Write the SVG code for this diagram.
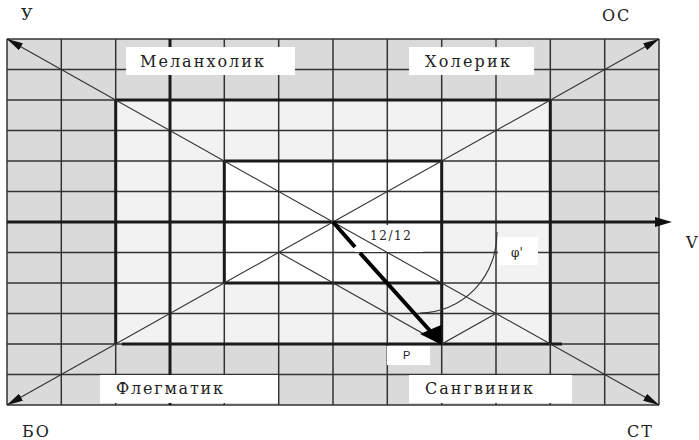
<svg xmlns="http://www.w3.org/2000/svg" width="699" height="440" viewBox="0 0 699 440">
<style>
.grid{fill:none;stroke:#333;stroke-width:1.5}
.thick{fill:none;stroke:#1a1a1a;stroke-width:3}
.diag{fill:none;stroke:#333;stroke-width:1.1}
.box{fill:#fff;stroke:none}
.lbl{font-family:"DejaVu Serif","Liberation Serif",serif;font-size:16px;fill:#222}
.corner{font-family:"DejaVu Serif","Liberation Serif",serif;font-size:16px;fill:#222}
.small{font-family:"DejaVu Serif","Liberation Serif",serif;font-size:12px;fill:#222}
</style>
<defs>
<marker id="ah" viewBox="0 0 16 8" refX="16" refY="4" markerWidth="16" markerHeight="8" markerUnits="userSpaceOnUse" orient="auto-start-reverse">
<path d="M0,0 L16,4 L0,8 z" fill="#111"/>
</marker>
</defs>
<rect width="699" height="440" fill="#fff"/>
<g id="background">
<rect x="7" y="39" width="652" height="366" fill="#dadada"/>
<rect x="115.7" y="100" width="434.6" height="244" fill="#f2f2f2"/>
<rect x="224.3" y="161" width="217.4" height="122" fill="#fff"/>
</g>
<g id="grid">
<path class="grid" d="M7,39V405 M61.3,39V405 M115.7,39V405 M170,39V405 M224.3,39V405 M278.7,39V405 M333,39V405 M387.3,39V405 M441.7,39V405 M496,39V405 M550.3,39V405 M604.7,39V405 M659,39V405
M7,39H659 M7,69.5H659 M7,100H659 M7,130.5H659 M7,161H659 M7,191.5H659 M7,222H659 M7,252.5H659 M7,283H659 M7,313.5H659 M7,344H659 M7,374.5H659 M7,405H659"/>
<path class="thick" d="M170,39V405 M115.7,100V344 M550.3,100V344 M115.7,100H550.3 M122,344H562 M224.3,161V283 M441.7,161V344 M224.3,161H441.7 M224.3,283H441.7 M7,222H655"/>
</g>
<g id="labels-boxes">
<rect class="box" x="126" y="47" width="169" height="28"/>
<rect class="box" x="409" y="47" width="125" height="28"/>
<rect class="box" x="100" y="375" width="178" height="28"/>
<rect class="box" x="409" y="375" width="163" height="28"/>
<rect class="box" x="355" y="225" width="68" height="27"/>
<rect class="box" x="498" y="237" width="40" height="28"/>
<rect class="box" x="387" y="346" width="43" height="19"/>
</g>
<g id="connectors">
<line class="diag" x1="7" y1="39" x2="659" y2="405" marker-start="url(#ah)" marker-end="url(#ah)"/>
<line class="diag" x1="7" y1="405" x2="659" y2="39" marker-start="url(#ah)" marker-end="url(#ah)"/>
<polyline class="diag" points="280,253 441.7,344 496,313.5"/>
<path class="diag" d="M497,232 A77,80 0 0 1 420,313"/>
<polygon points="655,217 672,222 655,227" fill="#111"/>
<path d="M333,222 L355,247 M360,253 L432,333" fill="none" stroke="#000" stroke-width="4"/>
<polygon points="442,345 420,334 441,325" fill="#000"/>
</g>
<g id="node-melancholic"><text class="lbl" x="140" y="67" textLength="124" lengthAdjust="spacing">Меланхолик</text></g>
<g id="node-choleric"><text class="lbl" x="425" y="67" textLength="85" lengthAdjust="spacing">Холерик</text></g>
<g id="node-phlegmatic"><text class="lbl" x="116" y="394" textLength="107" lengthAdjust="spacing">Флегматик</text></g>
<g id="node-sanguine"><text class="lbl" x="425" y="394" textLength="108" lengthAdjust="spacing">Сангвиник</text></g>
<g id="node-corners">
<text class="corner" x="21" y="20" font-size="14">У</text>
<text class="corner" x="602" y="21" letter-spacing="2">ОС</text>
<text class="corner" x="22" y="437" letter-spacing="2">БО</text>
<text class="corner" x="627" y="437" letter-spacing="2">СТ</text>
<text class="corner" x="686" y="248" font-size="13">V</text>
</g>
<g id="node-values">
<text class="small" x="370" y="240" textLength="41" lengthAdjust="spacing">12/12</text>
<text class="small" x="511" y="257" font-size="14">φ'</text>
<text x="403" y="359" font-family="Liberation Sans, Arial, sans-serif" font-size="11" fill="#222">Р</text>
</g>
</svg>
